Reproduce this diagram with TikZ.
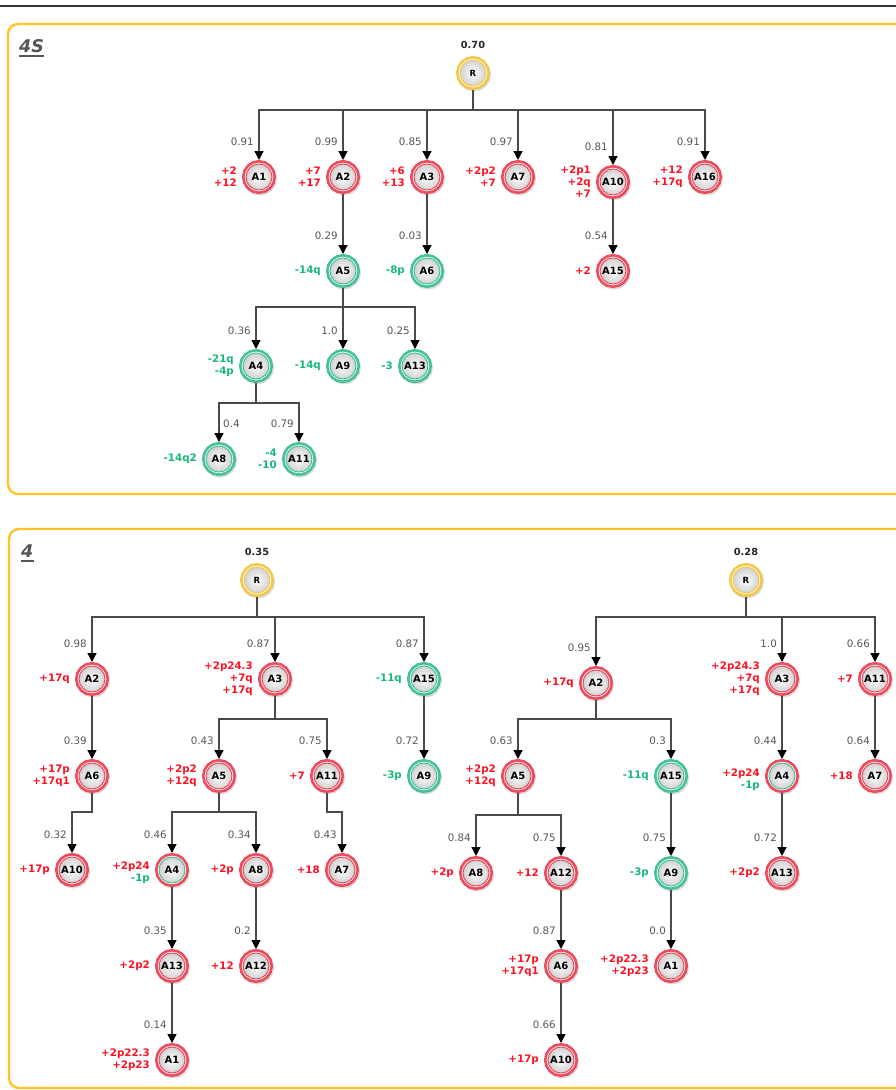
\documentclass[tikz,border=0pt]{standalone}
\usepackage{fontspec}
\setmainfont{DejaVu Sans}
\usetikzlibrary{arrows.meta}
\definecolor{ringred}{HTML}{EE4A5C}
\definecolor{ringgreen}{HTML}{44C296}
\definecolor{ringyellow}{HTML}{F2C84B}
\definecolor{txtred}{HTML}{FF1122}
\definecolor{txtgreen}{HTML}{16B878}
\definecolor{boxyellow}{HTML}{FFC424}
\definecolor{edgegray}{HTML}{4A4A4A}
\definecolor{elabgray}{HTML}{555555}
\definecolor{titlegray}{HTML}{555555}
\tikzset{
  nd/.style 2 args={circle, minimum size=26pt, inner sep=0pt, outer sep=4pt,
    preaction={draw=black!14, fill=black!14, line width=8pt, transform canvas={xshift=1pt,yshift=-1.5pt}},
    preaction={draw=#1, line width=8pt},
    preaction={draw=white, line width=2.6pt},
    shade, inner color=white, outer color=black!18,
    draw=#2, line width=1pt,
    font=\bfseries\fontsize{10}{11}\selectfont, text=black},
  rn/.style={nd={ringred}{ringred}},
  gn/.style={nd={ringgreen}{ringgreen}},
  mn/.style={nd={ringred}{ringgreen}},
  yn/.style={nd={ringyellow}{ringyellow}, font=\bfseries\fontsize{8.5}{9}\selectfont},
  edge/.style={draw=edgegray, line width=1.3pt, -{Triangle[width=9pt,length=9pt,color=black]}},
  elab/.style={font=\fontsize{10.3}{11}\selectfont, text=elabgray, anchor=east, inner sep=0pt},
  elabr/.style={elab, anchor=west},
  slab/.style={font=\bfseries\fontsize{10.3}{12}\selectfont, anchor=east, align=right, inner sep=0pt},
  rlab/.style={slab, text=txtred},
  glab/.style={slab, text=txtgreen},
  rootval/.style={font=\bfseries\fontsize{9.8}{10}\selectfont, text=black!85, inner sep=0pt},
  boxframe/.style={draw=boxyellow, line width=2.4pt, rounded corners=10pt},
  titletext/.style={font=\bfseries\itshape\fontsize{17.5}{18}\selectfont, text=titlegray, inner sep=0pt, anchor=base west},
  titleline/.style={draw=titlegray, line width=1.8pt}
}
\begin{document}
\begin{tikzpicture}[x=1pt,y=-1pt]
\useasboundingbox (0,0) rectangle (896,1090);
\clip (0,0) rectangle (896,1090);
\draw[line width=1.6pt, draw=black!80] (0,6) -- (896,6);
% frames
\draw[boxframe] (8,24) rectangle (930,494);
\draw[boxframe] (9,529) rectangle (930,1088);
\node[titletext] (t1) at (19,52) {4S};
\draw[titleline] ([yshift=-4pt]t1.base west) -- ([yshift=-4pt]t1.base east);
\node[titletext] (t2) at (21,557) {4};
\draw[titleline] ([yshift=-4pt]t2.base west) -- ([yshift=-4pt]t2.base east);

% ---------------- tree 1 (4S) ----------------
\coordinate (a0) at (0,110);
\coordinate (a1) at (0,307);
\coordinate (a2) at (0,403);
\node[yn] (aR) at (473,73) {R};
\node[rootval] (aRv) at (473,45) {0.70};
\node[rn] (aA1) at (259,177) {A1};
\node[rn] (aA2) at (343,177) {A2};
\node[rn] (aA3) at (427,177) {A3};
\node[rn] (aA7) at (518,177) {A7};
\node[rn] (aA10) at (613,182) {A10};
\node[rn] (aA16) at (705,177) {A16};
\node[gn] (aA5) at (343,271) {A5};
\node[gn] (aA6) at (427,271) {A6};
\node[rn] (aA15) at (613,271) {A15};
\node[gn] (aA4) at (256,366) {A4};
\node[gn] (aA9) at (343,366) {A9};
\node[gn] (aA13) at (415,366) {A13};
\node[gn] (aA8) at (219,459) {A8};
\node[gn] (aA11) at (299,459) {A11};

\draw[edge] (aR) -- (aR |- a0) -| (aA1);
\draw[edge] (aR) -- (aR |- a0) -| (aA2);
\draw[edge] (aR) -- (aR |- a0) -| (aA3);
\draw[edge] (aR) -- (aR |- a0) -| (aA7);
\draw[edge] (aR) -- (aR |- a0) -| (aA10);
\draw[edge] (aR) -- (aR |- a0) -| (aA16);
\draw[edge] (aA2) -- (aA5);
\draw[edge] (aA3) -- (aA6);
\draw[edge] (aA10) -- (aA15);
\draw[edge] (aA5) -- (aA5 |- a1) -| (aA4);
\draw[edge] (aA5) -- (aA9);
\draw[edge] (aA5) -- (aA5 |- a1) -| (aA13);
\draw[edge] (aA4) -- (aA4 |- a2) -| (aA8);
\draw[edge] (aA4) -- (aA4 |- a2) -| (aA11);

\node[elab] (aA1e) at ([shift={(-5pt,35pt)}]aA1.center) {0.91};
\node[elab] (aA2e) at ([shift={(-5pt,35pt)}]aA2.center) {0.99};
\node[elab] (aA3e) at ([shift={(-5pt,35pt)}]aA3.center) {0.85};
\node[elab] (aA7e) at ([shift={(-5pt,35pt)}]aA7.center) {0.97};
\node[elab] (aA10e) at ([shift={(-5pt,35pt)}]aA10.center) {0.81};
\node[elab] (aA16e) at ([shift={(-5pt,35pt)}]aA16.center) {0.91};
\node[elab] (aA5e) at ([shift={(-5pt,35pt)}]aA5.center) {0.29};
\node[elab] (aA6e) at ([shift={(-5pt,35pt)}]aA6.center) {0.03};
\node[elab] (aA15e) at ([shift={(-5pt,35pt)}]aA15.center) {0.54};
\node[elab] (aA4e) at ([shift={(-5pt,35pt)}]aA4.center) {0.36};
\node[elab] (aA9e) at ([shift={(-5pt,35pt)}]aA9.center) {1.0};
\node[elab] (aA13e) at ([shift={(-5pt,35pt)}]aA13.center) {0.25};
\node[elabr] (aA8e) at ([shift={(4pt,35pt)}]aA8.center) {0.4};
\node[elab] (aA11e) at ([shift={(-5pt,35pt)}]aA11.center) {0.79};

\node[rlab] (aA1s) at ([xshift=-22pt]aA1.center) {+2\\+12};
\node[rlab] (aA2s) at ([xshift=-22pt]aA2.center) {+7\\+17};
\node[rlab] (aA3s) at ([xshift=-22pt]aA3.center) {+6\\+13};
\node[rlab] (aA7s) at ([xshift=-22pt]aA7.center) {+2p2\\+7};
\node[rlab] (aA10s) at ([xshift=-22pt]aA10.center) {+2p1\\+2q\\+7};
\node[rlab] (aA16s) at ([xshift=-22pt]aA16.center) {+12\\+17q};
\node[glab] (aA5s) at ([xshift=-22pt]aA5.center) {-14q};
\node[glab] (aA6s) at ([xshift=-22pt]aA6.center) {-8p};
\node[rlab] (aA15s) at ([xshift=-22pt]aA15.center) {+2};
\node[glab] (aA4s) at ([xshift=-22pt]aA4.center) {-21q\\-4p};
\node[glab] (aA9s) at ([xshift=-22pt]aA9.center) {-14q};
\node[glab] (aA13s) at ([xshift=-22pt]aA13.center) {-3};
\node[glab] (aA8s) at ([xshift=-22pt]aA8.center) {-14q2};
\node[glab] (aA11s) at ([xshift=-22pt]aA11.center) {-4\\-10};

% ---------------- tree 2 (4, left) ----------------
\coordinate (b0) at (0,617);
\coordinate (b1) at (0,719);
\coordinate (b2) at (0,812);
\node[yn] (bR) at (257,580) {R};
\node[rootval] (bRv) at (257,552) {0.35};
\node[rn] (bA2) at (92,679) {A2};
\node[rn] (bA3) at (275,679) {A3};
\node[gn] (bA15) at (424,679) {A15};
\node[rn] (bA6) at (92,776) {A6};
\node[rn] (bA5) at (219,776) {A5};
\node[rn] (bA11) at (327,776) {A11};
\node[gn] (bA9) at (424,776) {A9};
\node[rn] (bA10) at (72,870) {A10};
\node[mn] (bA4) at (172,870) {A4};
\node[rn] (bA8) at (256,870) {A8};
\node[rn] (bA7) at (342,870) {A7};
\node[rn] (bA13) at (172,966) {A13};
\node[rn] (bA12) at (256,966) {A12};
\node[rn] (bA1) at (172,1060) {A1};

\draw[edge] (bR) -- (bR |- b0) -| (bA2);
\draw[edge] (bR) -- (bR |- b0) -| (bA3);
\draw[edge] (bR) -- (bR |- b0) -| (bA15);
\draw[edge] (bA2) -- (bA6);
\draw[edge] (bA3) -- (bA3 |- b1) -| (bA5);
\draw[edge] (bA3) -- (bA3 |- b1) -| (bA11);
\draw[edge] (bA15) -- (bA9);
\draw[edge] (bA6) -- (bA6 |- b2) -| (bA10);
\draw[edge] (bA5) -- (bA5 |- b2) -| (bA4);
\draw[edge] (bA5) -- (bA5 |- b2) -| (bA8);
\draw[edge] (bA11) -- (bA11 |- b2) -| (bA7);
\draw[edge] (bA4) -- (bA13);
\draw[edge] (bA8) -- (bA12);
\draw[edge] (bA13) -- (bA1);

\node[elab] (bA2e) at ([shift={(-5pt,35pt)}]bA2.center) {0.98};
\node[elab] (bA3e) at ([shift={(-5pt,35pt)}]bA3.center) {0.87};
\node[elab] (bA15e) at ([shift={(-5pt,35pt)}]bA15.center) {0.87};
\node[elab] (bA6e) at ([shift={(-5pt,35pt)}]bA6.center) {0.39};
\node[elab] (bA5e) at ([shift={(-5pt,35pt)}]bA5.center) {0.43};
\node[elab] (bA11e) at ([shift={(-5pt,35pt)}]bA11.center) {0.75};
\node[elab] (bA9e) at ([shift={(-5pt,35pt)}]bA9.center) {0.72};
\node[elab] (bA10e) at ([shift={(-5pt,35pt)}]bA10.center) {0.32};
\node[elab] (bA4e) at ([shift={(-5pt,35pt)}]bA4.center) {0.46};
\node[elab] (bA8e) at ([shift={(-5pt,35pt)}]bA8.center) {0.34};
\node[elab] (bA7e) at ([shift={(-5pt,35pt)}]bA7.center) {0.43};
\node[elab] (bA13e) at ([shift={(-5pt,35pt)}]bA13.center) {0.35};
\node[elab] (bA12e) at ([shift={(-5pt,35pt)}]bA12.center) {0.2};
\node[elab] (bA1e) at ([shift={(-5pt,35pt)}]bA1.center) {0.14};

\node[rlab] (bA2s) at ([xshift=-22pt]bA2.center) {+17q};
\node[rlab] (bA3s) at ([xshift=-22pt]bA3.center) {+2p24.3\\+7q\\+17q};
\node[glab] (bA15s) at ([xshift=-22pt]bA15.center) {-11q};
\node[rlab] (bA6s) at ([xshift=-22pt]bA6.center) {+17p\\+17q1};
\node[rlab] (bA5s) at ([xshift=-22pt]bA5.center) {+2p2\\+12q};
\node[rlab] (bA11s) at ([xshift=-22pt]bA11.center) {+7};
\node[glab] (bA9s) at ([xshift=-22pt]bA9.center) {-3p};
\node[rlab] (bA10s) at ([xshift=-22pt]bA10.center) {+17p};
\node[slab] (bA4s) at ([shift={(-22pt,-3pt)}]bA4.center) {\textcolor{txtred}{+2p24}\\\textcolor{txtgreen}{-1p}};
\node[rlab] (bA8s) at ([xshift=-22pt]bA8.center) {+2p};
\node[rlab] (bA7s) at ([xshift=-22pt]bA7.center) {+18};
\node[rlab] (bA13s) at ([xshift=-22pt]bA13.center) {+2p2};
\node[rlab] (bA12s) at ([xshift=-22pt]bA12.center) {+12};
\node[rlab] (bA1s) at ([xshift=-22pt]bA1.center) {+2p22.3\\+2p23};

% ---------------- tree 3 (4, right) ----------------
\coordinate (c0) at (0,617);
\coordinate (c1) at (0,719);
\coordinate (c2) at (0,815);
\node[yn] (cR) at (746,580) {R};
\node[rootval] (cRv) at (746,552) {0.28};
\node[rn] (cA2) at (596,683) {A2};
\node[rn] (cA3) at (782,679) {A3};
\node[rn] (cA11) at (875,679) {A11};
\node[rn] (cA5) at (518,776) {A5};
\node[gn] (cA15) at (671,776) {A15};
\node[mn] (cA4) at (782,776) {A4};
\node[rn] (cA7) at (875,776) {A7};
\node[rn] (cA8) at (476,873) {A8};
\node[rn] (cA12) at (561,873) {A12};
\node[gn] (cA9) at (671,873) {A9};
\node[rn] (cA13) at (782,873) {A13};
\node[rn] (cA6) at (561,966) {A6};
\node[rn] (cA1) at (671,966) {A1};
\node[rn] (cA10) at (561,1060) {A10};

\draw[edge] (cR) -- (cR |- c0) -| (cA2);
\draw[edge] (cR) -- (cR |- c0) -| (cA3);
\draw[edge] (cR) -- (cR |- c0) -| (cA11);
\draw[edge] (cA2) -- (cA2 |- c1) -| (cA5);
\draw[edge] (cA2) -- (cA2 |- c1) -| (cA15);
\draw[edge] (cA3) -- (cA4);
\draw[edge] (cA11) -- (cA7);
\draw[edge] (cA5) -- (cA5 |- c2) -| (cA8);
\draw[edge] (cA5) -- (cA5 |- c2) -| (cA12);
\draw[edge] (cA15) -- (cA9);
\draw[edge] (cA4) -- (cA13);
\draw[edge] (cA12) -- (cA6);
\draw[edge] (cA9) -- (cA1);
\draw[edge] (cA6) -- (cA10);

\node[elab] (cA2e) at ([shift={(-5pt,35pt)}]cA2.center) {0.95};
\node[elab] (cA3e) at ([shift={(-5pt,35pt)}]cA3.center) {1.0};
\node[elab] (cA11e) at ([shift={(-5pt,35pt)}]cA11.center) {0.66};
\node[elab] (cA5e) at ([shift={(-5pt,35pt)}]cA5.center) {0.63};
\node[elab] (cA15e) at ([shift={(-5pt,35pt)}]cA15.center) {0.3};
\node[elab] (cA4e) at ([shift={(-5pt,35pt)}]cA4.center) {0.44};
\node[elab] (cA7e) at ([shift={(-5pt,35pt)}]cA7.center) {0.64};
\node[elab] (cA8e) at ([shift={(-5pt,35pt)}]cA8.center) {0.84};
\node[elab] (cA12e) at ([shift={(-5pt,35pt)}]cA12.center) {0.75};
\node[elab] (cA9e) at ([shift={(-5pt,35pt)}]cA9.center) {0.75};
\node[elab] (cA13e) at ([shift={(-5pt,35pt)}]cA13.center) {0.72};
\node[elab] (cA6e) at ([shift={(-5pt,35pt)}]cA6.center) {0.87};
\node[elab] (cA1e) at ([shift={(-5pt,35pt)}]cA1.center) {0.0};
\node[elab] (cA10e) at ([shift={(-5pt,35pt)}]cA10.center) {0.66};

\node[rlab] (cA2s) at ([xshift=-22pt]cA2.center) {+17q};
\node[rlab] (cA3s) at ([xshift=-22pt]cA3.center) {+2p24.3\\+7q\\+17q};
\node[rlab] (cA11s) at ([xshift=-22pt]cA11.center) {+7};
\node[rlab] (cA5s) at ([xshift=-22pt]cA5.center) {+2p2\\+12q};
\node[glab] (cA15s) at ([xshift=-22pt]cA15.center) {-11q};
\node[slab] (cA4s) at ([shift={(-22pt,-4pt)}]cA4.center) {\textcolor{txtred}{+2p24}\\\textcolor{txtgreen}{-1p}};
\node[rlab] (cA7s) at ([xshift=-22pt]cA7.center) {+18};
\node[rlab] (cA8s) at ([xshift=-22pt]cA8.center) {+2p};
\node[rlab] (cA12s) at ([xshift=-22pt]cA12.center) {+12};
\node[glab] (cA9s) at ([xshift=-22pt]cA9.center) {-3p};
\node[rlab] (cA13s) at ([xshift=-22pt]cA13.center) {+2p2};
\node[rlab] (cA6s) at ([xshift=-22pt]cA6.center) {+17p\\+17q1};
\node[rlab] (cA1s) at ([xshift=-22pt]cA1.center) {+2p22.3\\+2p23};
\node[rlab] (cA10s) at ([xshift=-22pt]cA10.center) {+17p};
\end{tikzpicture}
\end{document}
